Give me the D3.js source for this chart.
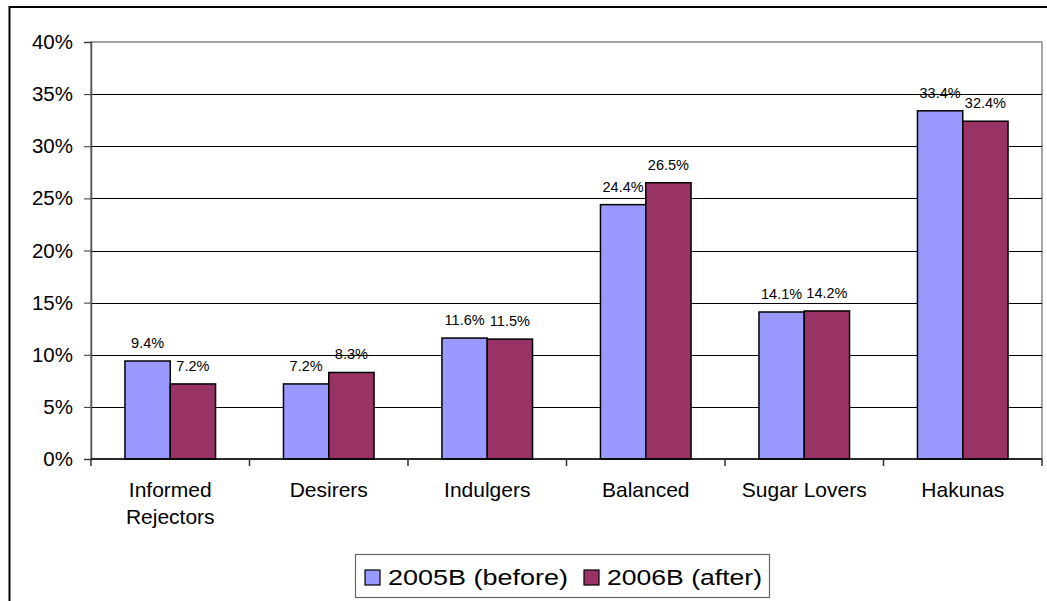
<!DOCTYPE html>
<html>
<head>
<meta charset="utf-8">
<script src="https://cdn.jsdelivr.net/npm/d3@7"></script>
<style>
  body { margin: 0; background: #fff; }
  text { font-family: "Liberation Sans", Arial, sans-serif; fill: #000; }
</style>
</head>
<body>
<div id="chart-area"></div>
<script>
// chart values
const categories = [['Informed', 'Rejectors'], ['Desirers'], ['Indulgers'], ['Balanced'], ['Sugar Lovers'], ['Hakunas']];
const seriesNames = ['2005B (before)', '2006B (after)'];
const before = [9.4, 7.2, 11.6, 24.4, 14.1, 33.4];
const after = [7.2, 8.3, 11.5, 26.5, 14.2, 32.4];
const yTicks = [0, 5, 10, 15, 20, 25, 30, 35, 40];

const COLORS = ['#9999ff', '#993366'];

const W = 1047, H = 601;
const MARGIN = { LEFT: 91, RIGHT: 5, TOP: 42, BOTTOM: 142 };
const WIDTH = W - MARGIN.LEFT - MARGIN.RIGHT;
const HEIGHT = H - MARGIN.TOP - MARGIN.BOTTOM;

const svg = d3.select('#chart-area')
  .append('svg')
  .attr('width', W)
  .attr('height', H);

// outer chart border (runs past the bottom/right of the picture)
svg.append('rect')
  .attr('x', 9.5).attr('y', 7)
  .attr('width', 1100).attr('height', 700)
  .attr('fill', 'none')
  .attr('stroke', '#000')
  .attr('stroke-width', 2);

const g = svg.append('g')
  .attr('transform', `translate(${MARGIN.LEFT},${MARGIN.TOP})`);

const x0 = d3.scaleBand()
  .domain(d3.range(categories.length))
  .range([0, WIDTH]);

const barW = x0.bandwidth() / 3.5;

const y = d3.scaleLinear()
  .domain([0, 40])
  .range([HEIGHT, 0]);

// plot area border
g.append('rect')
  .attr('x', 0).attr('y', 0)
  .attr('width', WIDTH).attr('height', HEIGHT)
  .attr('fill', 'none')
  .attr('stroke', '#888')
  .attr('stroke-width', 1.5);

// gridlines
g.selectAll('.grid')
  .data(yTicks.filter(t => t > 0 && t < 40))
  .enter().append('line')
  .attr('x1', 0).attr('x2', WIDTH)
  .attr('y1', d => Math.round(y(d)) + 0.5)
  .attr('y2', d => Math.round(y(d)) + 0.5)
  .attr('stroke', '#000')
  .attr('stroke-width', 1);

// y axis
const yAxis = g.append('g')
  .call(d3.axisLeft(y).tickValues(yTicks).tickSize(7).tickPadding(11).tickFormat(d => d + '%'));
yAxis.select('.domain').attr('stroke', '#555').attr('stroke-width', 1.5);
yAxis.selectAll('.tick line').attr('stroke', '#333');
yAxis.selectAll('text').style('font-size', '20.5px').attr('fill', '#000');

// bars
const groups = g.selectAll('.cat')
  .data(categories.map((c, i) => ({ i, vals: [before[i], after[i]] })))
  .enter().append('g')
  .attr('transform', d => `translate(${x0(d.i) + x0.bandwidth() / 2 - barW},0)`);

groups.selectAll('rect')
  .data(d => d.vals)
  .enter().append('rect')
  .attr('x', (d, j) => j * barW)
  .attr('y', d => y(d))
  .attr('width', barW)
  .attr('height', d => HEIGHT - y(d))
  .attr('fill', (d, j) => COLORS[j])
  .attr('stroke', '#000')
  .attr('stroke-width', 1.5);

groups.selectAll('.lbl')
  .data(d => d.vals)
  .enter().append('text')
  .attr('x', (d, j) => j * barW + barW / 2)
  .attr('y', d => y(d) - 13)
  .attr('text-anchor', 'middle')
  .style('font-size', '14.5px')
  .text(d => d.toFixed(1) + '%');

// x axis
g.append('line')
  .attr('x1', 0).attr('x2', WIDTH)
  .attr('y1', HEIGHT).attr('y2', HEIGHT)
  .attr('stroke', '#000').attr('stroke-width', 1.5);

g.selectAll('.xtick')
  .data(d3.range(categories.length + 1))
  .enter().append('line')
  .attr('x1', d => d * x0.step()).attr('x2', d => d * x0.step())
  .attr('y1', HEIGHT).attr('y2', HEIGHT + 7)
  .attr('stroke', '#333').attr('stroke-width', 1.5);

const catText = g.selectAll('.catlbl')
  .data(categories)
  .enter().append('text')
  .attr('x', (d, i) => x0(i) + x0.bandwidth() / 2)
  .attr('y', HEIGHT + 38)
  .attr('text-anchor', 'middle')
  .style('font-size', '21px');
catText.selectAll('tspan')
  .data(d => d)
  .enter().append('tspan')
  .attr('x', function () { return this.parentNode.getAttribute('x'); })
  .attr('dy', (d, k) => k === 0 ? 0 : 27)
  .text(d => d);

// legend
const legend = svg.append('g').attr('transform', 'translate(355,554)');
legend.append('rect')
  .attr('x', 0.5).attr('y', 0.5)
  .attr('width', 414).attr('height', 43)
  .attr('fill', '#fff')
  .attr('stroke', '#666').attr('stroke-width', 1.2);

const legendX = [10, 229];
const legendLen = [180, 155];
seriesNames.forEach((name, j) => {
  legend.append('rect')
    .attr('x', legendX[j]).attr('y', 16)
    .attr('width', 15).attr('height', 15)
    .attr('fill', COLORS[j])
    .attr('stroke', '#000').attr('stroke-width', 1.2);
  legend.append('text')
    .attr('x', legendX[j] + 23).attr('y', 31)
    .attr('textLength', legendLen[j])
    .attr('lengthAdjust', 'spacingAndGlyphs')
    .style('font-size', '22px')
    .text(name);
});
</script>
</body>
</html>
